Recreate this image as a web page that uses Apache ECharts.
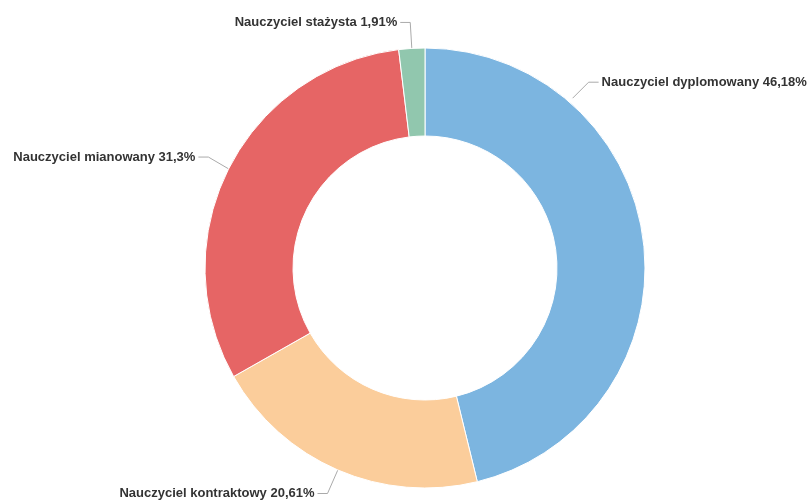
<!DOCTYPE html>
<html><head><meta charset="utf-8">
<script src="https://cdn.jsdelivr.net/npm/echarts@6/dist/echarts.min.js"></script>
<style>html,body{margin:0;padding:0;background:#fff}#c{width:811px;height:501px}</style>
</head><body><div id="c"></div>
<script>
const categories = ['Nauczyciel dyplomowany', 'Nauczyciel kontraktowy', 'Nauczyciel mianowany', 'Nauczyciel stażysta'];
const values = [46.18, 20.61, 31.3, 1.91];
const labelsPct = ['46,18%', '20,61%', '31,3%', '1,91%'];
const colors = ['#7cb5e0', '#fbcd9b', '#e66565', '#91c7ae'];

const CX = 425, CY = 268, R_IN = 132, R_OUT = 220;
// label anchor angle (deg from top, clockwise) for the shifted first label
const firstLabelAngle = 41;

const chart = echarts.init(document.getElementById('c'), null, {renderer: 'canvas'});
chart.setOption({
  animation: false,
  series: [{
    type: 'pie',
    center: [CX, CY],
    radius: [R_IN, R_OUT],
    startAngle: 90,
    clockwise: true,
    data: categories.map((n, i) => ({name: n, value: values[i], itemStyle: {color: colors[i]}})),
    itemStyle: {borderColor: '#fff', borderWidth: 1},
    label: {
      formatter: p => p.name + ' ' + labelsPct[p.dataIndex],
      fontFamily: 'Liberation Sans, Arial, sans-serif',
      fontSize: 13, fontWeight: 'bold', color: '#333',
      overflow: 'none',
      distanceToLabelLine: 3
    },
    labelLine: {length: 26, length2: 10, lineStyle: {color: '#aaa', width: 1}},
    labelLayout: function (p) {
      if (p.dataIndex !== 0) return {};
      const a = firstLabelAngle * Math.PI / 180;
      const r0 = R_OUT + 5;
      const x0 = CX + r0 * Math.sin(a), y0 = CY - r0 * Math.cos(a);
      const x1 = x0 + 16, y1 = y0 - 16;
      const x2 = x1 + 10;
      return {
        x: x2 + 3, y: y1, align: 'left', verticalAlign: 'middle',
        labelLinePoints: [[x0, y0], [x1, y1], [x2, y1]]
      };
    },
    emphasis: {disabled: true}
  }]
});
</script></body></html>
